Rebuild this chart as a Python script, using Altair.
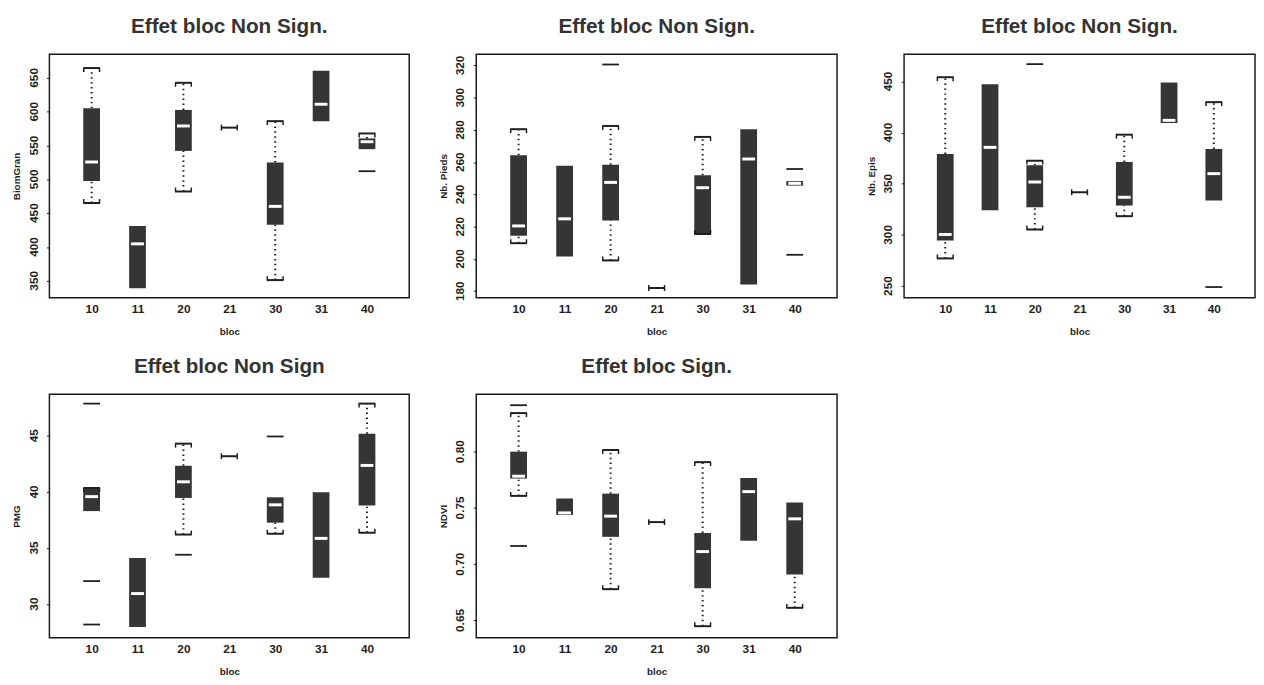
import altair as alt
import pandas as pd

FONT = "Liberation Sans"
BLOCS = ["10", "11", "20", "21", "30", "31", "40"]

# ---- Panel 1 : BiomGran
P1_TITLE = "Effet bloc Non Sign."
P1_Y = "BiomGran"
P1_Q1 = [497.5, 339, 542, None, 433, 586, 544.6]
P1_MED = [525.6, 404.6, 578.9, None, 460, 611, 555.6]
P1_Q3 = [605, 431, 602.6, None, 525, 660.6, 560.5]
P1_WLO = [465, None, 482, None, 351, None, None]
P1_WHI = [664.5, None, 642.7, None, 586, None, 567.8]
P1_SINGLE = 576.4
P1_OUT_BLOC = ["40"]
P1_OUT_VAL = [512]
P1_DOMAIN = [325, 685]
P1_TICKS = [350, 400, 450, 500, 550, 600, 650]

# ---- Panel 2 : Nb. Pieds
P2_TITLE = "Effet bloc Non Sign."
P2_Y = "Nb. Pieds"
P2_Q1 = [214.4, 201.6, 223.8, None, 216, 184.1, 245.5]
P2_MED = [220.5, 224.9, 247.5, None, 244.2, 262, 246.9]
P2_Q3 = [264.4, 257.8, 258.4, None, 252, 280.5, 248.3]
P2_WLO = [209.8, None, 199.1, None, 215.5, None, None]
P2_WHI = [280.5, None, 282.5, None, 275.7, None, None]
P2_SINGLE = 182
P2_OUT_BLOC = ["20", "40", "40"]
P2_OUT_VAL = [320.6, 255.8, 202.6]
P2_DOMAIN = [176, 327]
P2_TICKS = [180, 200, 220, 240, 260, 280, 300, 320]

# ---- Panel 3 : Nb. Epis
P3_TITLE = "Effet bloc Non Sign."
P3_Y = "Nb. Epis"
P3_Q1 = [294.5, 324.1, 327.1, None, 328.7, 409.4, 333.6]
P3_MED = [300.4, 385.6, 351.8, None, 336.8, 412, 359.9]
P3_Q3 = [379.1, 447.4, 368, None, 371.3, 449, 384]
P3_WLO = [277, None, 305.3, None, 318.3, None, None]
P3_WHI = [454.2, None, 372.6, None, 398, None, 429.8]
P3_SINGLE = 341.7
P3_OUT_BLOC = ["20", "40"]
P3_OUT_VAL = [466.9, 249]
P3_DOMAIN = [238.6, 476.7]
P3_TICKS = [250, 300, 350, 400, 450]

# ---- Panel 4 : PMG
P4_TITLE = "Effet bloc Non Sign"
P4_Y = "PMG"
P4_Q1 = [38.29, 27.95, 39.46, None, 37.26, 32.34, 38.79]
P4_MED = [39.58, 30.94, 40.9, None, 38.85, 35.86, 42.36]
P4_Q3 = [40.31, 34.1, 42.33, None, 39.52, 39.96, 45.18]
P4_WLO = [None, None, 36.2, None, 36.27, None, 36.36]
P4_WHI = [40.35, None, 44.3, None, None, None, 47.87]
P4_SINGLE = 43.18
P4_OUT_BLOC = ["10", "10", "10", "20", "30"]
P4_OUT_VAL = [47.87, 32.05, 28.18, 34.4, 44.94]
P4_DOMAIN = [27.0, 48.7]
P4_TICKS = [30, 35, 40, 45]

# ---- Panel 5 : NDVI
P5_TITLE = "Effet bloc Sign."
P5_Y = "NDVI"
P5_Q1 = [0.7761, 0.7438, 0.7243, None, 0.6787, 0.7208, 0.6909]
P5_MED = [0.7782, 0.7456, 0.7427, None, 0.7112, 0.7645, 0.7403]
P5_Q3 = [0.80, 0.7584, 0.7627, None, 0.7278, 0.7767, 0.7549]
P5_WLO = [0.7607, None, 0.6778, None, 0.6449, None, 0.6612]
P5_WHI = [0.8343, None, 0.8015, None, 0.7907, None, None]
P5_SINGLE = 0.7374
P5_OUT_BLOC = ["10", "10"]
P5_OUT_VAL = [0.8413, 0.7162]
P5_DOMAIN = [0.6346, 0.851]
P5_TICKS = [0.65, 0.70, 0.75, 0.80]

BOX_COLOR = "#353535"
INK = "#1e1e1e"
BOX_W = 17


def make_panel(title, ytitle, q1, med, q3, wlo, whi, single, out_bloc, out_val,
               domain, ticks, fmt, width, height=247):
    rows = list(zip(BLOCS, q1, med, q3, wlo, whi))
    box = pd.DataFrame([{"bloc": b, "v": a, "v2": c} for b, a, m, c, lo, hi in rows if a is not None])
    meds = pd.DataFrame([{"bloc": b, "v": m} for b, a, m, c, lo, hi in rows if m is not None])
    low = pd.DataFrame([{"bloc": b, "v": lo, "v2": a} for b, a, m, c, lo, hi in rows if lo is not None])
    up = pd.DataFrame([{"bloc": b, "v": c, "v2": hi} for b, a, m, c, lo, hi in rows if hi is not None])
    sing = pd.DataFrame({"bloc": ["21"], "v": [single]})
    outs = pd.DataFrame({"bloc": out_bloc, "v": out_val})
    labs = pd.DataFrame({"v": ticks})

    x = alt.X("bloc:N", title="bloc",
              scale=alt.Scale(type="point", domain=BLOCS, padding=0.92),
              axis=alt.Axis(labelAngle=0, ticks=False, domain=False, grid=False,
                            labelPadding=6, labelFontSize=12, labelFontWeight="bold",
                            labelFont=FONT, labelColor=INK,
                            titleFont=FONT, titleFontSize=10, titleFontWeight="bold",
                            titleColor=INK, titlePadding=12))
    y = alt.Y("v:Q", title=ytitle,
              scale=alt.Scale(domain=domain, nice=False, zero=False),
              axis=alt.Axis(values=ticks, labels=False, grid=False, domain=False,
                            tickSize=3, tickColor=INK, tickWidth=1,
                            titleFont=FONT, titleFontSize=10, titleFontWeight="bold",
                            titleColor=INK, titlePadding=25))

    layers = []
    dotted = dict(color=INK, strokeWidth=2, strokeDash=[1.5, 3.5])
    if len(low):
        layers.append(alt.Chart(low).mark_rule(**dotted).encode(x=x, y=y, y2="v2:Q"))
    if len(up):
        layers.append(alt.Chart(up).mark_rule(**dotted).encode(x=x, y=y, y2="v2:Q"))
    layers.append(alt.Chart(box).mark_bar(size=BOX_W, color=BOX_COLOR, opacity=1)
                  .encode(x=x, y=y, y2="v2:Q"))
    layers.append(alt.Chart(meds).mark_tick(color="white", size=13, thickness=3, opacity=1)
                  .encode(x=x, y=y))
    for df, hook in ((low, -2), (up, 2)):
        if len(df) == 0:
            continue
        cap = df[["bloc"]].copy()
        cap["v"] = df["v"] if hook < 0 else df["v2"]
        layers.append(alt.Chart(cap).mark_tick(color=INK, size=BOX_W, thickness=2, opacity=1)
                      .encode(x=x, y=y))
        for dx in (-8, 8):
            layers.append(alt.Chart(cap).mark_tick(color=INK, orient="vertical", size=4, thickness=1.5,
                                                   opacity=1, xOffset=dx, yOffset=hook)
                          .encode(x=x, y=y))
    layers.append(alt.Chart(sing).mark_tick(color=INK, size=BOX_W, thickness=2, opacity=1)
                  .encode(x=x, y=y))
    for dx in (-8, 8):
        layers.append(alt.Chart(sing).mark_tick(color=INK, orient="vertical", size=6, thickness=1.5,
                                                opacity=1, xOffset=dx).encode(x=x, y=y))
    layers.append(alt.Chart(outs).mark_tick(color=INK, size=BOX_W, thickness=1.8, opacity=1)
                  .encode(x=x, y=y))
    # rotated y tick labels (R style, reading bottom to top)
    layers.append(alt.Chart(labs).mark_text(angle=270, align="center", baseline="bottom",
                                            font=FONT, fontSize=12, fontWeight="bold", color=INK)
                  .encode(x=alt.value(-9), y=y, text=alt.Text("v:Q", format=fmt)))

    return alt.layer(*layers).properties(
        width=width, height=height,
        title=alt.TitleParams(title, font=FONT, fontSize=21, fontWeight="bold",
                              color="#333333", anchor="middle", offset=18),
    )


p1 = make_panel(P1_TITLE, P1_Y, P1_Q1, P1_MED, P1_Q3, P1_WLO, P1_WHI, P1_SINGLE,
                P1_OUT_BLOC, P1_OUT_VAL, P1_DOMAIN, P1_TICKS, "d", 365)
p2 = make_panel(P2_TITLE, P2_Y, P2_Q1, P2_MED, P2_Q3, P2_WLO, P2_WHI, P2_SINGLE,
                P2_OUT_BLOC, P2_OUT_VAL, P2_DOMAIN, P2_TICKS, "d", 366)
p3 = make_panel(P3_TITLE, P3_Y, P3_Q1, P3_MED, P3_Q3, P3_WLO, P3_WHI, P3_SINGLE,
                P3_OUT_BLOC, P3_OUT_VAL, P3_DOMAIN, P3_TICKS, "d", 356)
p4 = make_panel(P4_TITLE, P4_Y, P4_Q1, P4_MED, P4_Q3, P4_WLO, P4_WHI, P4_SINGLE,
                P4_OUT_BLOC, P4_OUT_VAL, P4_DOMAIN, P4_TICKS, "d", 365)
p5 = make_panel(P5_TITLE, P5_Y, P5_Q1, P5_MED, P5_Q3, P5_WLO, P5_WHI, P5_SINGLE,
                P5_OUT_BLOC, P5_OUT_VAL, P5_DOMAIN, P5_TICKS, ".2f", 366)

row1 = alt.hconcat(p1, p2, p3, spacing=27)
row2 = alt.hconcat(p4, p5, spacing=27)

chart = alt.vconcat(row1, row2, spacing=18).configure(
    padding={"left": 2, "top": 2, "right": 0, "bottom": 0},
    background="white",
).configure_view(stroke="#1a1a1a", strokeWidth=1.5)

chart.save("out.html", embed_options={"renderer": "svg", "actions": False})
